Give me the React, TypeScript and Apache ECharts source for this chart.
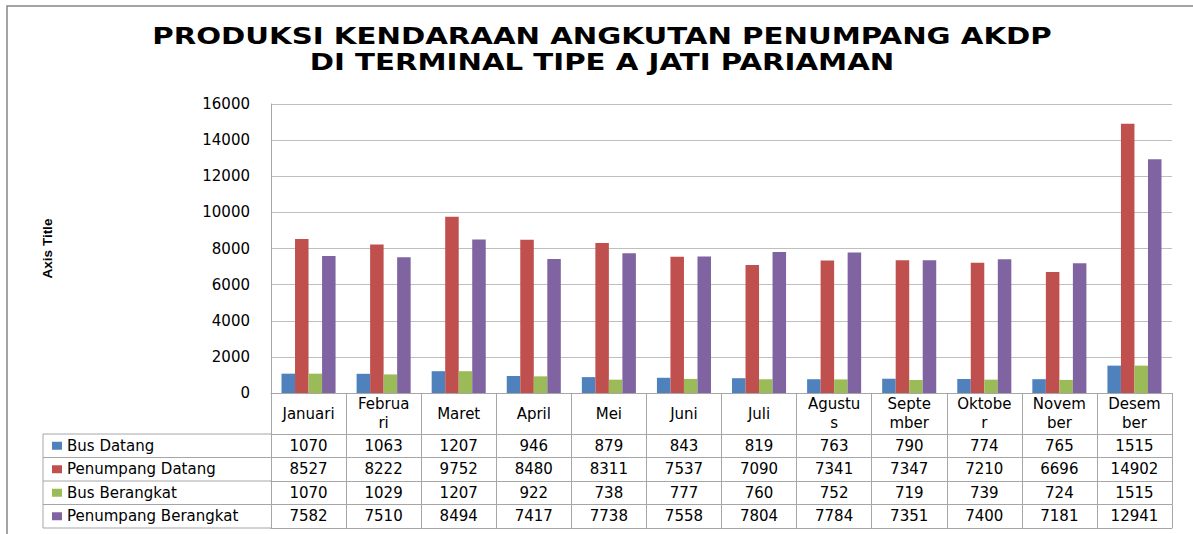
import React, { useEffect, useRef } from "react";
import * as echarts from "echarts";

const months = ["Januari", "Februari", "Maret", "April", "Mei", "Juni", "Juli", "Agustus", "September", "Oktober", "November", "Desember"];
const monthTickLabels = ["Januari", "Februa\nri", "Maret", "April", "Mei", "Juni", "Juli", "Agustu\ns", "Septe\nmber", "Oktobe\nr", "Novem\nber", "Desem\nber"];
const seriesNames = ["Bus Datang", "Penumpang Datang", "Bus Berangkat", "Penumpang Berangkat"];
const busDatang = [1070, 1063, 1207, 946, 879, 843, 819, 763, 790, 774, 765, 1515];
const penumpangDatang = [8527, 8222, 9752, 8480, 8311, 7537, 7090, 7341, 7347, 7210, 6696, 14902];
const busBerangkat = [1070, 1029, 1207, 922, 738, 777, 760, 752, 719, 739, 724, 1515];
const penumpangBerangkat = [7582, 7510, 8494, 7417, 7738, 7558, 7804, 7784, 7351, 7400, 7181, 12941];
const seriesColors = ["#4F81BD", "#C0504D", "#9BBB59", "#8064A2"];
const titleLines = ["PRODUKSI KENDARAAN ANGKUTAN PENUMPANG AKDP", "DI TERMINAL TIPE A JATI PARIAMAN"];
const yAxisTitle = "Axis Title";
const yMin = 0;
const yMax = 16000;
const yInterval = 2000;

const W = 1193;
const H = 534;
const GRID_LEFT = 271;
const GRID_RIGHT = 1172;
const GRID_TOP = 104;
const AXIS_Y = 393;
const HEADER_H = 41;
const ROW_H = 23.5;
const TABLE_LEFT = 43;
const FONT = "DejaVu Sans";
const LINE_COLOR = "#A6A6A6";

export default function App() {
  const ref = useRef<HTMLDivElement>(null);
  useEffect(() => {
    if (!ref.current) return;
    const chart = echarts.init(ref.current, undefined, { renderer: "svg" });
    const rows = [busDatang, penumpangDatang, busBerangkat, penumpangBerangkat];

    const baseX = {
      type: "category" as const,
      gridIndex: 0,
      position: "bottom" as const,
      boundaryGap: true,
      axisLine: { show: true, onZero: false, lineStyle: { color: LINE_COLOR, width: 1 } },
      axisTick: { show: true, interval: 0, alignWithLabel: false, inside: false, lineStyle: { color: LINE_COLOR, width: 1 } },
      splitLine: { show: false },
    };

    const xAxes: any[] = [
      {
        ...baseX,
        data: months,
        offset: 0,
        axisTick: { ...baseX.axisTick, length: HEADER_H },
        axisLabel: {
          interval: 0,
          margin: HEADER_H / 2,
          verticalAlign: "middle",
          lineHeight: 19,
          fontFamily: FONT,
          fontSize: 15,
          color: "#000",
          formatter: (_v: string, i: number) => monthTickLabels[i],
        },
      },
      ...rows.map((r, k) => ({
        ...baseX,
        data: r.map((v) => String(v)),
        offset: HEADER_H + ROW_H * k,
        axisTick: { ...baseX.axisTick, length: ROW_H },
        axisLabel: {
          interval: 0,
          margin: ROW_H / 2,
          verticalAlign: "middle",
          fontFamily: FONT,
          fontSize: 15,
          color: "#000",
        },
      })),
      {
        ...baseX,
        data: months,
        offset: HEADER_H + ROW_H * 4,
        axisTick: { show: false },
        axisLabel: { show: false },
      },
    ];

    const graphic: any[] = [
      {
        type: "rect",
        shape: { x: 7, y: 6, width: W + 20, height: H + 20 },
        style: { fill: "none", stroke: "#868686", lineWidth: 1.5 },
        silent: true,
      },
      ...titleLines.map((t, i) => ({
        type: "text",
        x: 602,
        y: 36 + i * 26,
        scaleX: 1.3,
        style: {
          text: t,
          textAlign: "center",
          textVerticalAlign: "middle",
          fontFamily: FONT,
          fontWeight: "bold",
          fontSize: 22.5,
          fill: "#000",
        },
      })),
      {
        type: "line",
        shape: { x1: TABLE_LEFT, y1: AXIS_Y + HEADER_H, x2: TABLE_LEFT, y2: AXIS_Y + HEADER_H + ROW_H * 4 },
        style: { stroke: LINE_COLOR, lineWidth: 1 },
      },
      ...[0, 1, 2, 3, 4].map((k) => ({
        type: "line",
        shape: {
          x1: TABLE_LEFT,
          y1: AXIS_Y + HEADER_H + ROW_H * k,
          x2: GRID_LEFT,
          y2: AXIS_Y + HEADER_H + ROW_H * k,
        },
        style: { stroke: LINE_COLOR, lineWidth: 1 },
      })),
    ];

    chart.setOption({
      animation: false,
      color: seriesColors,
      grid: {
        left: GRID_LEFT,
        right: W - GRID_RIGHT,
        top: GRID_TOP,
        bottom: H - AXIS_Y,
        containLabel: false,
        outerBoundsMode: "none",
      },
      legend: seriesNames.map((name, k) => ({
        data: [name],
        left: 52,
        top: AXIS_Y + HEADER_H + ROW_H * k + ROW_H / 2 - 7.5,
        orient: "vertical",
        padding: 0,
        icon: "rect",
        itemWidth: 10,
        itemHeight: 8,
        selectedMode: false,
        textStyle: { fontFamily: FONT, fontSize: 15, color: "#000" },
      })),
      xAxis: xAxes,
      yAxis: {
        type: "value",
        min: yMin,
        max: yMax,
        interval: yInterval,
        name: yAxisTitle,
        nameLocation: "middle",
        nameRotate: 90,
        nameGap: 217,
        nameTextStyle: { fontFamily: "Liberation Sans", fontWeight: "bold", fontSize: 13.5, color: "#000" },
        axisLine: { show: true, lineStyle: { color: LINE_COLOR } },
        axisTick: { show: false },
        axisLabel: {
          margin: 21,
          fontFamily: FONT,
          fontSize: 15,
          color: "#000",
          formatter: (v: number) => String(v),
        },
        splitLine: { show: true, lineStyle: { color: "#BFBFBF", width: 1 } },
      },
      series: [busDatang, penumpangDatang, busBerangkat, penumpangBerangkat].map((d, k) => ({
        type: "bar",
        name: seriesNames[k],
        xAxisIndex: 0,
        data: d,
        barGap: "0%",
        barCategoryGap: "28%",
        itemStyle: { color: seriesColors[k] },
      })),
      graphic,
    });
    return () => chart.dispose();
  }, []);
  return <div ref={ref} style={{ position: "absolute", left: 0, top: 0, width: W, height: H, background: "#fff" }} />;
}
